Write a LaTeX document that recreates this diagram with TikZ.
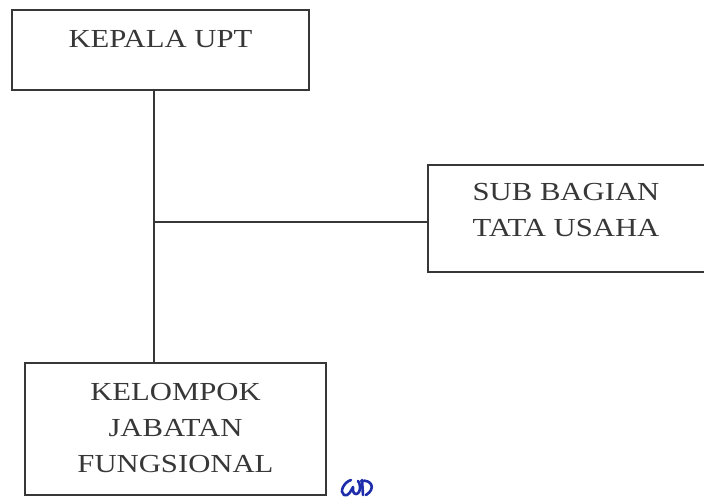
\documentclass[tikz,border=0pt]{standalone}
\usepackage{fontspec}
\usepackage{tikz}
\newfontfamily\orgfont[FakeStretch=1.18]{Liberation Serif}
\definecolor{scanink}{RGB}{55,55,55}
\definecolor{penblue}{RGB}{30,45,170}

\tikzset{
  unitbox/.style={draw=scanink, line width=1.1pt, rectangle, inner sep=0pt},
  unittext/.style={text=scanink, align=center, inner sep=0pt, font=\orgfont\fontsize{14.8}{20.5}\selectfont},
  orgline/.style={draw=scanink, line width=1.1pt}
}

\begin{document}
\begin{tikzpicture}[x=0.02cm, y=-0.02cm]
  \useasboundingbox (0,0) rectangle (704,497);

  % boxes
  \node[unitbox, minimum width=5.94cm, minimum height=1.6cm] (kepala) at (160.5,50) {};
  \node[unitbox, minimum width=5.68cm, minimum height=2.14cm] (subbag) at (570,218.5) {};
  \node[unitbox, minimum width=6.02cm, minimum height=2.64cm] (kelompok) at (175.5,429) {};

  % labels
  \node[unittext] (kepalalbl) at (160.5,39) {KEPALA UPT};
  \node[unittext] (subbaglbl) at (566,210) {SUB BAGIAN\\TATA USAHA};
  \node[unittext] (kelompoklbl) at (175.5,428) {KELOMPOK\\JABATAN\\FUNGSIONAL};

  % lines
  \coordinate (junction) at (154,222);
  \draw[orgline] (kepala.south -| junction) -- (kelompok.north -| junction);
  \draw[orgline] (junction) -- (subbag.west |- junction);

  % paraf
  \draw[penblue, line width=1.5pt, line cap=round, line join=round]
    (351,480) .. controls (344,482) and (339,492) .. (344,495)
    .. controls (348,497) and (351,491) .. (353,487)
    .. controls (352,492) and (355,497) .. (359,492)
    .. controls (361,489) and (360,483) .. (358,481);
  \draw[penblue, line width=1.5pt, line cap=round, line join=round]
    (362,480) -- (363,495)
    (361,481) .. controls (372,479) and (376,489) .. (366,495);
\end{tikzpicture}
\end{document}
